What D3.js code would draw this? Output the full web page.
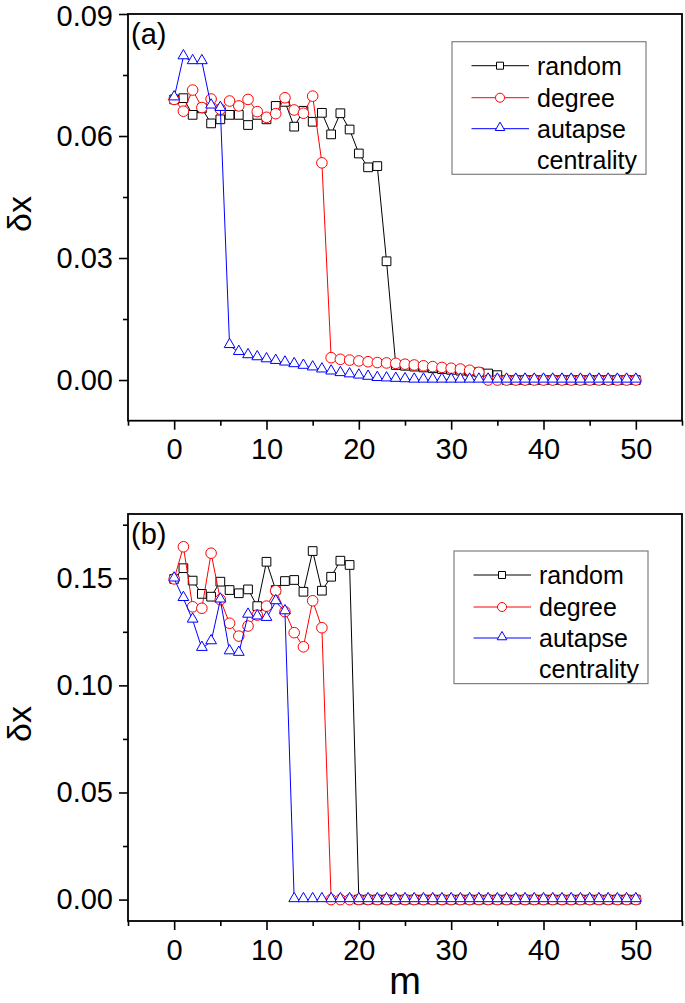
<!DOCTYPE html>
<html>
<head>
<meta charset="utf-8">
<script src="https://cdn.jsdelivr.net/npm/d3@7/dist/d3.min.js"></script>
<style>
  html, body { margin: 0; padding: 0; background: #fff; }
  svg { display: block; }
  text { font-family: "Liberation Sans", Arial, Helvetica, sans-serif; fill: #000; }
</style>
</head>
<body>
<svg id="chart" width="685" height="1003"></svg>
<script>
// ---------------- DATA ----------------
const mValues = [0,1,2,3,4,5,6,7,8,9,10,11,12,13,14,15,16,17,18,19,20,21,22,23,24,25,26,27,28,29,30,31,32,33,34,35,36,37,38,39,40,41,42,43,44,45,46,47,48,49,50];

const seriesNames = ["random", "degree", "autapse"];
const legendLabels = ["random", "degree", "autapse", "centrality"];

// panel (a)
const aRandom = [0.0690,0.0693,0.0652,0.0668,0.0631,0.0641,0.0652,0.0652,0.0627,0.0652,
                 0.0641,0.0674,0.0684,0.0623,0.0662,0.0635,0.0657,0.0604,0.0656,0.0616,
                 0.0557,0.0523,0.0526,0.0292,0.0037,0.0035,0.0033,0.0031,0.0029,0.0027,
                 0.0025,0.0023,0.0021,0.0019,0.0016,0.0012,0,0,0,0,
                 0,0,0,0,0,0,0,0,0,0,
                 0];
const aDegree = [0.0690,0.0661,0.0713,0.0670,0.0691,0.0666,0.0686,0.0674,0.0690,0.0660,
                 0.0646,0.0655,0.0694,0.0664,0.0656,0.0698,0.0534,0.0055,0.0051,0.0049,
                 0.0047,0.0045,0.0043,0.0042,0.0041,0.0039,0.0037,0.0035,0.0033,0.0031,
                 0.0029,0.0027,0.0024,0.0019,0,0,0,0,0,0,
                 0,0,0,0,0,0,0,0,0,0,
                 0];
const aAutapse = [0.0694,0.0795,0.0783,0.0783,0.0674,0.0668,0.0085,0.0068,0.0060,0.0055,
                  0.0050,0.0046,0.0042,0.0038,0.0034,0.0030,0.0025,0.0020,0.0016,0.0013,
                  0.0010,0.0007,0.0004,0.0003,0.0002,0.0001,0,0,0,0,
                  0,0,0,0,0,0,0,0,0,0,
                  0,0,0,0,0,0,0,0,0,0,
                  0];

// panel (b)
const bRandom = [0.1497,0.1547,0.1489,0.1427,0.1414,0.1484,0.1445,0.1430,0.1448,0.1370,
                 0.1577,0.1445,0.1487,0.1492,0.1437,0.1627,0.1442,0.1507,0.1582,0.1562,
                 0,0,0,0,0,0,0,0,0,0,
                 0,0,0,0,0,0,0,0,0,0,
                 0,0,0,0,0,0,0,0,0,0,
                 0];
const bDegree = [0.1497,0.1647,0.1367,0.1360,0.1617,0.1400,0.1290,0.1230,0.1277,0.1328,
                 0.1370,0.1442,0.1344,0.1246,0.1180,0.1395,0.1269,0,0,0,
                 0,0,0,0,0,0,0,0,0,0,
                 0,0,0,0,0,0,0,0,0,0,
                 0,0,0,0,0,0,0,0,0,0,
                 0];
const bAutapse = [0.1497,0.1406,0.1305,0.1173,0.1204,0.1399,0.1157,0.1150,0.1328,0.1320,
                  0.1313,0.1391,0.1344,0,0,0,0,0,0,0,
                  0,0,0,0,0,0,0,0,0,0,
                  0,0,0,0,0,0,0,0,0,0,
                  0,0,0,0,0,0,0,0,0,0,
                  0];

const xMajorTicks = [0,10,20,30,40,50];
const xMinorTicks = [-5,5,15,25,35,45,55];
const aYMajorTicks = [0.00,0.03,0.06,0.09];
const aYMinorTicks = [0.015,0.045,0.075];
const bYMajorTicks = [0.00,0.05,0.10,0.15];
const bYMinorTicks = [0.025,0.075,0.125,0.175];

// ---------------- LAYOUT ----------------
const svg = d3.select("#chart");
const colors = { random: "#000000", degree: "#ff0000", autapse: "#0000ff" };
const symbols = { random: d3.symbolSquare, degree: d3.symbolCircle, autapse: d3.symbolTriangle };
const symbolSizes = { random: 76, degree: 88, autapse: 50 };
const legendSymbolSizes = { random: 49, degree: 64, autapse: 40 };

const xLeft = 128, xRight = 682;

const panels = [
  { label: "(a)", top: 14, bottom: 420.7, yDomain: [-0.01, 0.09],
    major: aYMajorTicks, minor: aYMinorTicks,
    data: { random: aRandom, degree: aDegree, autapse: aAutapse },
    legendX: 452, legendY: 41.7, titleY: 214 },
  { label: "(b)", top: 514, bottom: 921, yDomain: [-0.01, 0.18],
    major: bYMajorTicks, minor: bYMinorTicks,
    data: { random: bRandom, degree: bDegree, autapse: bAutapse },
    legendX: 454, legendY: 551, titleY: 724 }
];

const x = d3.scaleLinear().domain([-5, 55]).range([xLeft, xRight]);

panels.forEach(p => {
  const y = d3.scaleLinear().domain(p.yDomain).range([p.bottom, p.top]);
  const g = svg.append("g");

  // frame
  g.append("rect")
    .attr("x", xLeft).attr("y", p.top)
    .attr("width", xRight - xLeft).attr("height", p.bottom - p.top)
    .attr("fill", "none").attr("stroke", "#000").attr("stroke-width", 1.8);

  // y axis major
  const yAx = g.append("g").attr("transform", `translate(${xLeft},0)`)
    .call(d3.axisLeft(y).tickValues(p.major).tickFormat(d3.format(".2f"))
      .tickSize(9).tickSizeOuter(0).tickPadding(6));
  yAx.select(".domain").remove();
  yAx.selectAll("line").attr("stroke-width", 1.6);
  yAx.selectAll("text").style("font-size", "29px")
    .style("font-family", '"Liberation Sans", Arial, sans-serif')
    .attr("dy", d => (y(d) - p.top < 10 ? "0.4em" : "0.32em"));

  // y axis minor
  const yMin = g.append("g").attr("transform", `translate(${xLeft},0)`)
    .call(d3.axisLeft(y).tickValues(p.minor).tickFormat("").tickSize(5).tickSizeOuter(0));
  yMin.select(".domain").remove();
  yMin.selectAll("line").attr("stroke-width", 1.6);

  // x axis major
  const xAx = g.append("g").attr("transform", `translate(0,${p.bottom})`)
    .call(d3.axisBottom(x).tickValues(xMajorTicks).tickFormat(d3.format("d"))
      .tickSize(9).tickSizeOuter(0).tickPadding(9));
  xAx.select(".domain").remove();
  xAx.selectAll("line").attr("stroke-width", 1.6);
  xAx.selectAll("text").style("font-size", "29px")
    .style("font-family", '"Liberation Sans", Arial, sans-serif');

  const xMin = g.append("g").attr("transform", `translate(0,${p.bottom})`)
    .call(d3.axisBottom(x).tickValues(xMinorTicks).tickFormat("").tickSize(5).tickSizeOuter(0));
  xMin.select(".domain").remove();
  xMin.selectAll("line").attr("stroke-width", 1.6);

  // y title
  g.append("text")
    .attr("transform", `translate(31,${p.titleY}) rotate(-90)`)
    .attr("text-anchor", "middle")
    .style("font-size", "34px")
    .text("δx");

  // panel label
  g.append("text")
    .attr("x", 131).attr("y", p.top + 30)
    .style("font-size", "29px")
    .text(p.label);

  // series
  const plot = g.append("g");
  seriesNames.forEach(name => {
    const vals = p.data[name];
    const pts = mValues.map((m, i) => [m, vals[i]]);
    plot.append("path")
      .datum(pts)
      .attr("fill", "none")
      .attr("stroke", colors[name])
      .attr("stroke-width", 1)
      .attr("d", d3.line().x(d => x(d[0])).y(d => y(d[1])));
    const sym = d3.symbol().type(symbols[name]).size(symbolSizes[name]);
    plot.selectAll(null).data(pts).enter().append("path")
      .attr("d", sym)
      .attr("transform", d => `translate(${x(d[0])},${y(d[1]) + (name === "autapse" ? -1 : 0)})`)
      .attr("fill", "#fff")
      .attr("stroke", colors[name])
      .attr("stroke-width", 1);
  });

  // legend
  const lg = g.append("g").attr("transform", `translate(${p.legendX},${p.legendY})`);
  lg.append("rect").attr("x", 0).attr("y", 0).attr("width", 194).attr("height", 132.6)
    .attr("fill", "#fff").attr("stroke", "#7f7f7f").attr("stroke-width", 1.2);
  const rowY = [24, 56, 87];
  seriesNames.forEach((name, i) => {
    lg.append("line").attr("x1", 19.5).attr("x2", 77)
      .attr("y1", rowY[i]).attr("y2", rowY[i])
      .attr("stroke", colors[name]).attr("stroke-width", 1);
    lg.append("path")
      .attr("d", d3.symbol().type(symbols[name]).size(legendSymbolSizes[name]))
      .attr("transform", `translate(48,${rowY[i] + (name === "autapse" ? -1 : 0)})`)
      .attr("fill", "#fff").attr("stroke", colors[name]).attr("stroke-width", 1);
  });
  const textY = [24, 56, 87, 118];
  legendLabels.forEach((t, i) => {
    lg.append("text").attr("x", 85).attr("y", textY[i] + 9)
      .style("font-size", "25px").text(t);
  });
});

// x title
svg.append("text")
  .attr("x", (xLeft + xRight) / 2).attr("y", 994)
  .attr("text-anchor", "middle")
  .style("font-size", "38px")
  .text("m");
</script>
</body>
</html>
